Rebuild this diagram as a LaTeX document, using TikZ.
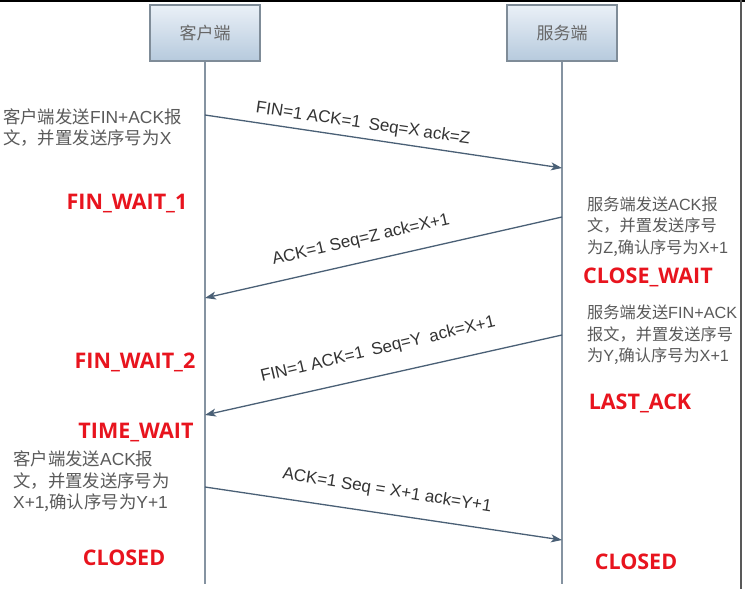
\documentclass[tikz,border=0pt]{standalone}
\usepackage{fontspec}
\setmainfont{Liberation Sans}
\newfontfamily\cjk{Noto Sans CJK SC}
\newfontfamily\latn{Liberation Sans}
\newfontfamily\statefont{Open Sans}
\newcommand\lt[1]{{\latn #1}}
\usetikzlibrary{arrows.meta}
\definecolor{boxtop}{HTML}{EAF0F7}
\definecolor{boxbot}{HTML}{B6CADD}
\definecolor{boxborder}{HTML}{7F8C98}
\definecolor{boxtext}{HTML}{666666}
\definecolor{lifeline}{HTML}{8593A1}
\definecolor{msgcol}{HTML}{4A6076}
\definecolor{labcol}{HTML}{333333}
\definecolor{notecol}{HTML}{5A5A5A}
\definecolor{statered}{HTML}{E8141E}
\begin{document}
\begin{tikzpicture}[x=1pt,y=-1pt,
  lifebox/.style={draw=boxborder, line width=1.2pt, top color=boxtop, bottom color=boxbot,
    minimum width=110pt, minimum height=56pt, inner sep=0pt,
    font=\cjk\fontsize{17}{20}\selectfont, text=boxtext},
  life/.style={draw=lifeline, line width=1.7pt},
  msg/.style={draw=msgcol, line width=1.3pt, -{Stealth[length=11pt,width=8pt,inset=3pt]}},
  msglabel/.style={font=\fontsize{17}{20}\selectfont, text=labcol, inner sep=0pt},
  state/.style={font=\statefont\bfseries\fontsize{21.5}{24}\selectfont, text=statered, inner sep=0pt},
  note/.style={font=\cjk\fontsize{17.4}{21.5}\selectfont, text=notecol, align=left, inner sep=0pt, anchor=west},
  rnote/.style={note, font=\cjk\fontsize{16.2}{21.5}\selectfont},
]
\fill[white] (0,0) rectangle (745,589);
\useasboundingbox (0,0) rectangle (745,589);
\fill[black] (0,0) rectangle (745,1.5);
\draw[gray!70!black, line width=1.5pt] (741,0) -- (741,589);

% participants
\node[lifebox] (client) at (205,33) {客户端};
\node[lifebox] (server) at (562,33) {服务端};
\coordinate (cend) at (205,584);
\coordinate (send) at (562,584);
\draw[life] (client.south) -- (cend);
\draw[life] (server.south) -- (send);

% message endpoints
\coordinate (c1) at (205,115);  \coordinate (s1) at (562,168);
\coordinate (s2) at (562,217);  \coordinate (c2) at (205,298);
\coordinate (s3) at (562,335);  \coordinate (c3) at (205,415);
\coordinate (c4) at (205,487);  \coordinate (s4) at (562,540);

\draw[msg] (c1) -- (s1);
\draw[msg] (s2) -- (c2);
\draw[msg] (s3) -- (c3);
\draw[msg] (c4) -- (s4);

% message labels
\node[msglabel, rotate=-8.3] (l1) at (363,124) {FIN=1 ACK=1\hspace{8pt}Seq=X\hspace{4pt}ack=Z};
\node[msglabel, rotate=13] (l2) at (361,240) {ACK=1 Seq=Z ack=X+1};
\node[msglabel, rotate=13.3] (l3) at (378,350) {FIN=1 ACK=1\hspace{8pt}Seq=Y\hspace{8pt}ack=X+1};
\node[msglabel, rotate=-9] (l4) at (387,491) {ACK=1 Seq = X+1 ack=Y+1};

% notes
\node[note] (n1) at (3,127.5) {客户端发送\lt{FIN+ACK}报\\文，并置发送序号为\lt{X}};
\node[rnote] (n2) at (587,226.5) {服务端发送\lt{ACK}报\\文，并置发送序号\\为\lt{Z},确认序号为\lt{X+1}};
\node[rnote] (n3) at (587,335) {服务端发送\lt{FIN+ACK}\\报文，并置发送序号\\为\lt{Y},确认序号为\lt{X+1}};
\node[note] (n4) at (13,481.5) {客户端发送\lt{ACK}报\\文，并置发送序号为\\\lt{X+1},确认序号为\lt{Y+1}};

% states
\node[state] (fw1) at (127,203) {FIN\_WAIT\_1};
\node[state] (fw2) at (135,362) {FIN\_WAIT\_2};
\node[state] (tw) at (136,432) {TIME\_WAIT};
\node[state] (cl1) at (124,558) {CLOSED};
\node[state] (cw) at (648,277) {CLOSE\_WAIT};
\node[state] (la) at (640,403) {LAST\_ACK};
\node[state] (cl2) at (636,562) {CLOSED};
\end{tikzpicture}
\end{document}
